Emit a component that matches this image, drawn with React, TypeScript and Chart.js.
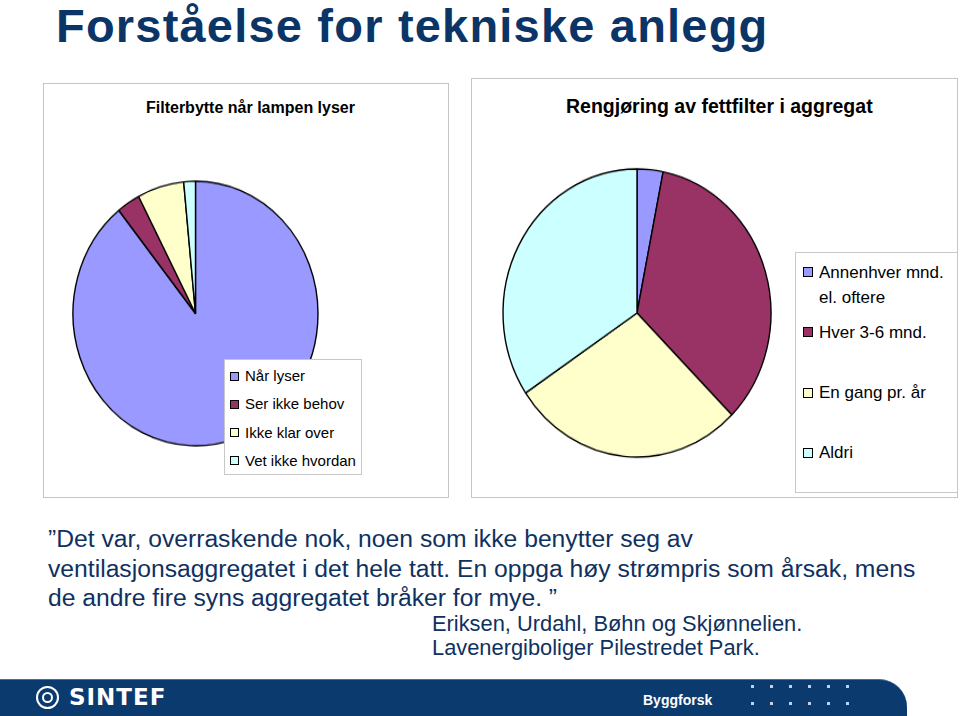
import React, { useEffect, useRef } from "react";
import { Chart, PieController, ArcElement } from "chart.js";

Chart.register(PieController, ArcElement);

const slideTitle = "Forståelse for tekniske anlegg";
const leftTitle = "Filterbytte når lampen lyser";
const leftLabels = ["Når lyser", "Ser ikke behov", "Ikke klar over", "Vet ikke hvordan"];
const leftValues = [58, 2, 4, 1];
const rightTitle = "Rengjøring av fettfilter i aggregat";
const rightLabels = ["Annenhver mnd. el. oftere", "Hver 3-6 mnd.", "En gang pr. år", "Aldri"];
const rightValues = [1, 11, 9, 11];
const sliceColors = ["#9999FF", "#993366", "#FFFFCC", "#CCFFFF"];
const quoteLines = [
  "\u201DDet var, overraskende nok, noen som ikke benytter seg av",
  "ventilasjonsaggregatet i det hele tatt. En oppga høy strømpris som årsak, mens",
  "de andre fire syns aggregatet bråker for mye. \u201D",
];
const sourceLines = ["Eriksen, Urdahl, Bøhn og Skjønnelien.", "Lavenergiboliger Pilestredet Park."];

const FONT = "'Liberation Sans', Arial, sans-serif";
const NAVY = "#0b3567";

type PieProps = {
  values: number[];
  labels: string[];
  radius: number;
  cx: number;
  cy: number;
  stretch: number;
};

function Pie({ values, labels, radius, cx, cy, stretch }: PieProps) {
  const ref = useRef<HTMLCanvasElement | null>(null);
  const size = Math.ceil(radius * 2 + 8);
  useEffect(() => {
    if (!ref.current) return;
    const chart = new Chart(ref.current, {
      type: "pie",
      data: {
        labels,
        datasets: [
          {
            data: values,
            backgroundColor: sliceColors,
            borderColor: "#000000",
            borderWidth: 1.4,
          },
        ],
      },
      options: {
        responsive: false,
        animation: false,
        events: [],
        radius,
        layout: { padding: 0 },
        plugins: { legend: { display: false }, tooltip: { enabled: false }, title: { display: false } },
      },
    });
    return () => chart.destroy();
  }, []);
  return (
    <div
      style={{
        position: "absolute",
        left: cx - size / 2,
        top: cy - size / 2,
        width: size,
        height: size,
        transform: `scaleY(${stretch})`,
        transformOrigin: "50% 50%",
      }}
    >
      <canvas ref={ref} width={size} height={size} />
    </div>
  );
}

function Swatch({ color, size, left, top }: { color: string; size: number; left: number; top: number }) {
  return (
    <div
      style={{
        position: "absolute",
        left,
        top,
        width: size,
        height: size,
        boxSizing: "border-box",
        background: color,
        border: "1px solid #000",
      }}
    />
  );
}

export default function App() {
  const dotsX = [752, 771, 790, 809, 828, 847];
  const dotsY = [686, 703];
  return (
    <div
      style={{
        position: "absolute",
        left: 0,
        top: 0,
        width: 960,
        height: 716,
        overflow: "hidden",
        background: "#ffffff",
        fontFamily: FONT,
      }}
    >
      <div
        style={{
          position: "absolute",
          left: 56,
          top: 2,
          fontSize: 47,
          lineHeight: "47px",
          fontWeight: "bold",
          color: NAVY,
          whiteSpace: "nowrap",
          letterSpacing: 1.2,
        }}
      >
        {slideTitle}
      </div>

      {/* left chart frame */}
      <div
        style={{
          position: "absolute",
          left: 43,
          top: 83,
          width: 406,
          height: 415,
          border: "1px solid #c4c4c4",
          boxSizing: "border-box",
        }}
      />
      <div
        style={{
          position: "absolute",
          left: 146,
          width: 200,
          top: 98,
          textAlign: "center",
          fontSize: 16,
          lineHeight: "20px",
          fontWeight: "bold",
          whiteSpace: "nowrap",
          color: "#000",
        }}
      >
        {leftTitle}
      </div>
      <Pie values={leftValues} labels={leftLabels} radius={122.5} cx={195.7} cy={313.3} stretch={1.08} />
      <div
        style={{
          position: "absolute",
          left: 224,
          top: 359,
          width: 138,
          height: 116,
          background: "#fff",
          border: "1px solid #c8c8c8",
          boxSizing: "border-box",
        }}
      />
      {leftLabels.map((l, i) => {
        const c = 376 + i * 28.3;
        return (
          <React.Fragment key={l}>
            <Swatch color={sliceColors[i]} size={9} left={230} top={c - 4.5} />
            <div
              style={{
                position: "absolute",
                left: 245,
                top: c - 10,
                lineHeight: "20px",
                fontSize: 15,
                color: "#000",
                whiteSpace: "nowrap",
              }}
            >
              {l}
            </div>
          </React.Fragment>
        );
      })}

      {/* right chart frame */}
      <div
        style={{
          position: "absolute",
          left: 471,
          top: 78,
          width: 487,
          height: 420,
          border: "1px solid #c4c4c4",
          boxSizing: "border-box",
        }}
      />
      <div
        style={{
          position: "absolute",
          left: 566,
          width: 300,
          top: 94,
          textAlign: "center",
          fontSize: 19.5,
          lineHeight: "24px",
          fontWeight: "bold",
          whiteSpace: "nowrap",
          color: "#000",
        }}
      >
        {rightTitle}
      </div>
      <Pie values={rightValues} labels={rightLabels} radius={134} cx={636.7} cy={313.3} stretch={1.075} />
      <div
        style={{
          position: "absolute",
          left: 795,
          top: 252,
          width: 163,
          height: 241,
          background: "#fff",
          border: "1px solid #c8c8c8",
          boxSizing: "border-box",
        }}
      />
      {rightLabels.map((l, i) => {
        const c = 272 + i * 60.3;
        return (
          <React.Fragment key={l}>
            <Swatch color={sliceColors[i]} size={10} left={803} top={c - 5} />
            <div
              style={{
                position: "absolute",
                left: 819,
                top: c - 12.5,
                width: 145,
                lineHeight: "25px",
                fontSize: 17,
                color: "#000",
              }}
            >
              {l}
            </div>
          </React.Fragment>
        );
      })}

      {/* quote */}
      {quoteLines.map((t, i) => (
        <div
          key={t}
          style={{
            position: "absolute",
            left: 48,
            top: 548 + i * 29.5 - 0.8465 * 24.7,
            fontSize: 24.7,
            lineHeight: "24.7px",
            color: "#0f315f",
            whiteSpace: "nowrap",
          }}
        >
          {t}
        </div>
      ))}
      {sourceLines.map((t, i) => (
        <div
          key={t}
          style={{
            position: "absolute",
            left: 432,
            top: 631 + i * 24.5 - 0.8465 * 21.85,
            fontSize: 21.85,
            lineHeight: "21.85px",
            color: "#0f315f",
            whiteSpace: "nowrap",
          }}
        >
          {t}
        </div>
      ))}

      {/* footer */}
      <div
        style={{
          position: "absolute",
          left: 0,
          top: 679,
          width: 907,
          height: 40,
          background: "#0a3a6e",
          borderTopRightRadius: 28,
          borderTop: "1px solid #4a6f9c",
          boxSizing: "border-box",
        }}
      />
      <div
        style={{
          position: "absolute",
          left: 36,
          top: 686,
          width: 23,
          height: 23,
          borderRadius: "50%",
          border: "2.5px solid #fff",
          boxSizing: "border-box",
        }}
      >
        <div
          style={{
            position: "absolute",
            left: 3.5,
            top: 3.5,
            width: 11,
            height: 11,
            borderRadius: "50%",
            border: "2.5px solid #fff",
            boxSizing: "border-box",
          }}
        />
      </div>
      <div
        style={{
          position: "absolute",
          left: 69,
          top: 685,
          fontSize: 23,
          lineHeight: "24px",
          fontWeight: "bold",
          color: "#fff",
          letterSpacing: 1,
          fontFamily: "'DejaVu Sans', sans-serif",
        }}
      >
        SINTEF
      </div>
      <div
        style={{
          position: "absolute",
          left: 643,
          top: 691,
          fontSize: 14,
          lineHeight: "18px",
          fontWeight: "bold",
          color: "#fff",
        }}
      >
        Byggforsk
      </div>
      {dotsY.map((y) =>
        dotsX.map((x) => (
          <div
            key={`${x}-${y}`}
            style={{ position: "absolute", left: x - 1.5, top: y - 1.5, width: 3, height: 3, background: "#c3d1e8" }}
          />
        ))
      )}
    </div>
  );
}
